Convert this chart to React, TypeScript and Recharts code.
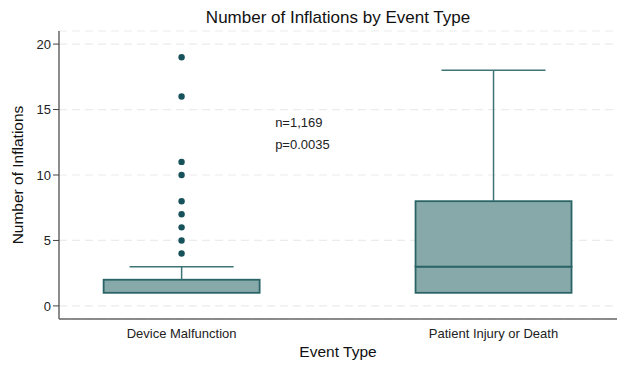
import React from "react";
import {
  ComposedChart,
  Bar,
  Scatter,
  XAxis,
  YAxis,
  CartesianGrid,
  ReferenceDot,
} from "recharts";

const categories = ["Device Malfunction", "Patient Injury or Death"];
const xPositions = [1, 2];
const mins = [1, 1];
const q1s = [1, 1];
const medians = [1, 3];
const q3s = [2, 8];
const maxs = [3, 18];
const outliersDevice = [4, 5, 6, 7, 8, 10, 11, 16, 19];
const yTicks = [0, 5, 10, 15, 20];
const annotations = ["n=1,169", "p=0.0035"];

const BOX_FILL = "#87a9aa";
const BOX_STROKE = "#2b6466";
const WHISKER = "#3d7476";
const DOT = "#17525a";
const FONT = "'Liberation Sans', Arial, sans-serif";

const boxData = categories.map((c, i) => ({
  x: xPositions[i],
  name: c,
  base: mins[i],
  lowWhisker: q1s[i] - mins[i],
  boxLow: medians[i] - q1s[i],
  boxHigh: q3s[i] - medians[i],
  upWhisker: maxs[i] - q3s[i],
}));

const outlierData = outliersDevice.map((v) => ({ x: xPositions[0], y: v }));

const BoxShape = (props: any) => {
  const { x, y, width, height } = props;
  return (
    <rect
      x={x}
      y={y}
      width={width}
      height={Math.max(height, 0)}
      fill={BOX_FILL}
      stroke={BOX_STROKE}
      strokeWidth={1.8}
    />
  );
};

const makeWhisker = (top: boolean) => (props: any) => {
  const { x, y, width, height } = props;
  if (!height || height <= 0) return <g />;
  const cx = x + width / 2;
  const capHalf = width / 3;
  const capY = top ? y : y + height;
  return (
    <g>
      <line x1={cx} x2={cx} y1={y} y2={y + height} stroke={WHISKER} strokeWidth={1.5} />
      <line x1={cx - capHalf} x2={cx + capHalf} y1={capY} y2={capY} stroke={WHISKER} strokeWidth={1.5} />
    </g>
  );
};

const UpWhisker = makeWhisker(true);
const LowWhisker = makeWhisker(false);

const Dot = (props: any) => {
  const { cx, cy } = props;
  return <circle cx={cx} cy={cy} r={3.2} fill={DOT} />;
};

const AnnotationLabel = (text: string) => (props: any) => {
  const { viewBox } = props;
  const vx = viewBox ? viewBox.x + (viewBox.width || 0) / 2 : 0;
  const vy = viewBox ? viewBox.y + (viewBox.height || 0) / 2 : 0;
  return (
    <text x={vx} y={vy} dy={4.5} fontSize={13} fontFamily={FONT} fill="#222" textAnchor="start">
      {text}
    </text>
  );
};

export default function App() {
  return (
    <div style={{ position: "absolute", left: 0, top: 0, background: "#fff" }}>
      <div
        style={{
          position: "absolute",
          left: 0,
          width: 676,
          top: 8,
          textAlign: "center",
          fontFamily: FONT,
          fontSize: 17,
          color: "#111",
        }}
      >
        Number of Inflations by Event Type
      </div>
      <ComposedChart
        width={624}
        height={370}
        data={boxData}
        margin={{ top: 31, right: 7, bottom: 11, left: 0 }}
      >
        <CartesianGrid
          vertical={false}
          stroke="#ececec"
          strokeDasharray="8 5"
          strokeWidth={1.2}
        />
        <XAxis
          dataKey="x"
          type="number"
          height={40}
          domain={[0.607, 2.396]}
          ticks={xPositions}
          tickFormatter={(v: number) => categories[xPositions.indexOf(v)] ?? ""}
          tickLine={false}
          axisLine={{ stroke: "#666", strokeWidth: 1.5 }}
          tick={{ fontSize: 13, fontFamily: FONT, fill: "#222" }}
          tickMargin={4}
          allowDataOverflow
          label={{
            value: "Event Type",
            position: "insideBottom",
            offset: 2,
            style: { fontSize: 15.5, fontFamily: FONT, fill: "#111" },
          }}
        />
        <YAxis
          type="number"
          domain={[-1, 21]}
          ticks={yTicks}
          width={59}
          tickSize={6}
          tickLine={{ stroke: "#444" }}
          axisLine={{ stroke: "#666", strokeWidth: 1.5 }}
          tick={{ fontSize: 13, fontFamily: FONT, fill: "#222" }}
          allowDataOverflow
          label={{
            value: "Number of Inflations",
            angle: -90,
            position: "insideLeft",
            offset: 17,
            style: { fontSize: 15.5, fontFamily: FONT, fill: "#111", textAnchor: "middle" },
          }}
        />
        <Bar dataKey="base" stackId="b" barSize={156} fill="transparent" isAnimationActive={false} />
        <Bar dataKey="lowWhisker" stackId="b" barSize={156} shape={LowWhisker} isAnimationActive={false} />
        <Bar dataKey="boxLow" stackId="b" barSize={156} shape={BoxShape} isAnimationActive={false} />
        <Bar dataKey="boxHigh" stackId="b" barSize={156} shape={BoxShape} isAnimationActive={false} />
        <Bar dataKey="upWhisker" stackId="b" barSize={156} shape={UpWhisker} isAnimationActive={false} />
        <Scatter data={outlierData} dataKey="y" shape={Dot} isAnimationActive={false} />
        <ReferenceDot x={1.3} y={14} r={0} ifOverflow="visible" label={AnnotationLabel(annotations[0])} />
        <ReferenceDot x={1.3} y={12.3} r={0} ifOverflow="visible" label={AnnotationLabel(annotations[1])} />
      </ComposedChart>
    </div>
  );
}
